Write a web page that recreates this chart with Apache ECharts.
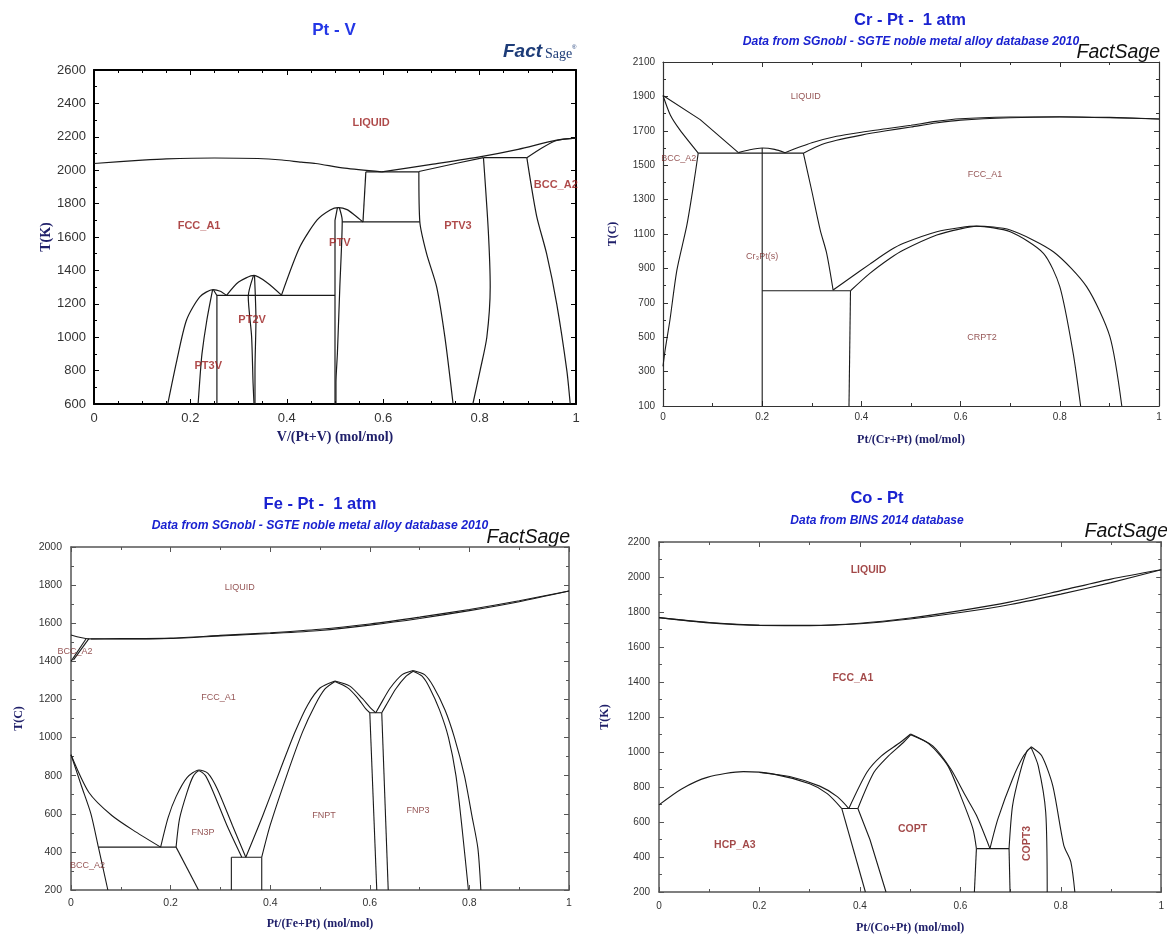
<!DOCTYPE html>
<html>
<head>
<meta charset="utf-8">
<script src="https://cdn.jsdelivr.net/npm/echarts@6/dist/echarts.min.js"></script>
<style>
  html, body { margin: 0; padding: 0; background: #fff; }
  #chart { width: 1167px; height: 937px; }
</style>
</head>
<body>
<div id="chart"></div>
<script>
// ---------- shared composition ticks ----------
const compTicks = [0, 0.2, 0.4, 0.6, 0.8, 1];

// ---------- Pt - V (T in K) ----------
const ptvTempTicks = [600, 800, 1000, 1200, 1400, 1600, 1800, 2000, 2200, 2400, 2600];
const ptvCurves = [
  [[0,2040],[0.1,2060],[0.15,2068],[0.25,2073],[0.34,2070],[0.39,2061],[0.43,2048],[0.46,2040],[0.52,2012],[0.597,1990]],
  [[0.597,1990],[0.70,2035],[0.80,2080],[0.88,2125],[0.96,2180],[1.0,2192]],
  [[0.674,1992],[0.75,2040],[0.808,2075]],
  [[0.898,2075],[0.93,2135],[0.96,2178],[1,2192]],
  [[0.808,2075],[0.898,2075]],
  [[0.564,1990],[0.674,1990]],
  [[0.564,1990],[0.558,1690]],
  [[0.674,1990],[0.676,1690],[0.690,1500],[0.711,1300],[0.728,1000],[0.745,600]],
  [[0.515,1690],[0.676,1690]],
  [[0.808,2075],[0.818,1640],[0.822,1300],[0.815,1000],[0.801,800],[0.786,600]],
  [[0.898,2075],[0.918,1730],[0.939,1500],[0.960,1200],[0.981,800],[0.988,600]],
  [[0.389,1252],[0.427,1540],[0.463,1702],[0.490,1762],[0.507,1776],[0.525,1764],[0.541,1730],[0.558,1690]],
  [[0.505,1775],[0.500,1700],[0.500,600]],
  [[0.509,1775],[0.515,1700],[0.510,1300],[0.505,905],[0.502,726],[0.502,600]],
  [[0.255,1250],[0.500,1250]],
  [[0.153,600],[0.172,863],[0.192,1103],[0.220,1243],[0.247,1285],[0.262,1275],[0.275,1250]],
  [[0.246,1283],[0.234,1100],[0.224,900],[0.220,763],[0.216,600]],
  [[0.248,1283],[0.255,1250],[0.255,600]],
  [[0.275,1250],[0.30,1330],[0.332,1370],[0.36,1325],[0.389,1252]],
  [[0.331,1370],[0.320,1243],[0.327,1003],[0.330,726],[0.332,600]],
  [[0.333,1370],[0.336,1103],[0.334,803],[0.334,600]]
];
const ptvLabels = [
  ['LIQUID', 0.575, 2283], ['FCC_A1', 0.218, 1666], ['PTV', 0.51, 1564], ['PTV3', 0.755, 1666],
  ['BCC_A2', 0.958, 1911], ['PT2V', 0.328, 1103], ['PT3V', 0.237, 827]
];

// ---------- Cr - Pt (T in C) ----------
const crptTempTicks = [100, 300, 500, 700, 900, 1100, 1300, 1500, 1700, 1900, 2100];
const crptCurves = [
  [[0,1905],[0.075,1765],[0.152,1573]],
  [[0,1905],[0.015,1790],[0.034,1705],[0.071,1570]],
  [[0.071,1570],[0.283,1570]],
  [[0.152,1573],[0.175,1590],[0.2,1600],[0.225,1592],[0.246,1573]],
  [[0.2,1600],[0.2,100]],
  [[0.246,1573],[0.30,1630],[0.35,1668],[0.40,1692],[0.45,1712],[0.50,1732],[0.55,1755],[0.60,1770],[0.70,1780],[0.80,1782],[0.90,1778],[1.0,1769]],
  [[0.283,1570],[0.32,1620],[0.35,1645],[0.40,1675],[0.45,1700],[0.50,1722],[0.55,1745],[0.60,1762],[0.70,1776],[0.80,1780],[0.90,1776],[1.0,1769]],
  [[0.283,1570],[0.30,1350],[0.317,1123],[0.33,988],[0.343,774]],
  [[0.2,770],[0.378,770]],
  [[0.378,770],[0.375,100]],
  [[0.343,774],[0.38,850],[0.417,925],[0.458,1005],[0.485,1046],[0.552,1113],[0.60,1138],[0.632,1146],[0.70,1123],[0.787,997],[0.854,794],[0.901,503],[0.925,100]],
  [[0.378,770],[0.417,871],[0.458,959],[0.485,1007],[0.552,1094],[0.60,1130],[0.632,1145],[0.70,1113],[0.767,988],[0.80,794],[0.827,406],[0.842,100]],
  [[0.071,1570],[0.061,1375],[0.048,1150],[0.028,890],[0.014,600],[0.004,420],[0,330]]
];
const crptLabels = [
  ['LIQUID', 0.288, 1897], ['BCC_A2', 0.032, 1536], ['FCC_A1', 0.649, 1443],
  ['Cr\u2083Pt(s)', 0.2, 972], ['CRPT2', 0.643, 501]
];

// ---------- Fe - Pt (T in C) ----------
const feptTempTicks = [200, 400, 600, 800, 1000, 1200, 1400, 1600, 1800, 2000];
const feptCurves = [
  [[0,1538],[0.035,1518],[0.1,1519],[0.2,1522],[0.3,1536],[0.4,1550],[0.5,1568],[0.6,1596],[0.7,1632],[0.8,1672],[0.9,1718],[1,1769]],
  [[0.04,1517],[0.1,1517],[0.2,1520],[0.3,1533],[0.4,1546],[0.5,1562],[0.6,1590],[0.7,1625],[0.8,1666],[0.9,1713],[1,1769]],
  [[0,1400],[0.03,1517]],
  [[0.005,1408],[0.036,1519]],
  [[0,910],[0.036,712],[0.082,591],[0.13,505],[0.18,425]],
  [[0,910],[0.021,746],[0.04,600],[0.055,425],[0.074,200]],
  [[0.055,425],[0.211,425]],
  [[0.18,425],[0.195,580],[0.211,690],[0.233,790],[0.257,830],[0.275,812],[0.294,729],[0.324,540],[0.351,372]],
  [[0.211,425],[0.218,574],[0.233,712],[0.245,795],[0.257,826],[0.27,800],[0.286,712],[0.313,540],[0.343,372]],
  [[0.211,425],[0.256,200]],
  [[0.322,372],[0.383,372]],
  [[0.322,372],[0.322,200]],
  [[0.383,372],[0.383,200]],
  [[0.351,372],[0.385,590],[0.42,830],[0.45,1030],[0.475,1170],[0.50,1260],[0.53,1297]],
  [[0.383,372],[0.40,540],[0.435,815],[0.465,1030],[0.49,1170],[0.51,1255],[0.53,1294]],
  [[0.53,1297],[0.56,1270],[0.585,1205],[0.600,1160],[0.612,1130]],
  [[0.53,1294],[0.555,1262],[0.575,1210],[0.592,1150],[0.600,1130]],
  [[0.612,1130],[0.625,1190],[0.641,1260],[0.665,1330],[0.687,1352]],
  [[0.624,1130],[0.635,1180],[0.652,1255],[0.672,1320],[0.687,1348]],
  [[0.687,1352],[0.71,1330],[0.728,1267],[0.751,1145],[0.77,1000],[0.79,800],[0.805,590],[0.817,420],[0.823,200]],
  [[0.687,1348],[0.705,1322],[0.720,1262],[0.740,1145],[0.758,1000],[0.773,800],[0.786,506],[0.798,200]],
  [[0.600,1130],[0.624,1130]],
  [[0.600,1130],[0.614,200]],
  [[0.624,1130],[0.637,200]]
];
const feptLabels = [
  ['LIQUID', 0.339, 1786], ['BCC_A2', 0.008, 1454], ['FCC_A1', 0.296, 1211], ['FN3P', 0.265, 503],
  ['FNPT', 0.508, 591], ['FNP3', 0.697, 617], ['BCC_A2', 0.033, 330]
];

// ---------- Co - Pt (T in K) ----------
const coptTempTicks = [200, 400, 600, 800, 1000, 1200, 1400, 1600, 1800, 2000, 2200];
const coptCurves = [
  [[0,1768],[0.1,1740],[0.2,1725],[0.3,1724],[0.4,1736],[0.5,1766],[0.6,1808],[0.7,1858],[0.8,1922],[0.9,1988],[1,2041]],
  [[0,1768],[0.1,1738],[0.2,1723],[0.3,1722],[0.4,1733],[0.5,1760],[0.6,1797],[0.7,1843],[0.8,1902],[0.9,1968],[1,2041]],
  [[0,698],[0.045,789],[0.096,855],[0.168,888],[0.226,875],[0.30,818],[0.335,762],[0.364,677]],
  [[0.2,883],[0.26,860],[0.32,805],[0.355,745],[0.378,677]],
  [[0.364,677],[0.396,677]],
  [[0.364,677],[0.411,200]],
  [[0.396,677],[0.42,500],[0.452,200]],
  [[0.378,677],[0.414,884],[0.443,978],[0.48,1054],[0.501,1103]],
  [[0.396,677],[0.428,884],[0.457,978],[0.485,1050],[0.501,1098]],
  [[0.501,1103],[0.545,1035],[0.581,903],[0.61,751],[0.632,638],[0.659,448]],
  [[0.501,1098],[0.538,1045],[0.575,922],[0.603,732],[0.625,562],[0.632,448]],
  [[0.632,448],[0.697,448]],
  [[0.632,448],[0.628,200]],
  [[0.697,448],[0.699,200]],
  [[0.659,448],[0.675,619],[0.704,846],[0.726,978],[0.741,1030]],
  [[0.697,448],[0.704,694],[0.719,884],[0.733,1007],[0.741,1025]],
  [[0.741,1030],[0.762,978],[0.784,808],[0.806,467],[0.82,372],[0.828,200]],
  [[0.741,1025],[0.755,922],[0.77,656],[0.773,200]]
];
const coptLabels = [
  ['LIQUID', 0.417, 2039], ['FCC_A1', 0.386, 1423], ['HCP_A3', 0.151, 467],
  ['COPT', 0.505, 562], ['COPT3', 0.733, 477, 90]
];

// ---------- panel layout and styling ----------
const panels = [
  {
    grid: { left: 94, top: 70, width: 482, height: 334 },
    curves: ptvCurves, labels: ptvLabels, yTicks: ptvTempTicks,
    xName: 'V/(Pt+V) (mol/mol)', yName: 'T(K)',
    frame: '#000', frameW: 2, tickFs: 13, tickFont: 'Liberation Sans',
    xMinor: 4, yMinor: 2, rightMinor: 0,
    xLabelMargin: 8, yLabelMargin: 8, xNameGap: 26, yNameGap: 37, nameFs: 14,
    lineColor: '#1a1a1a', lineW: 1.2,
    phase: { color: '#9a1c1c', fontSize: 11, fontWeight: 'bold' }
  },
  {
    grid: { left: 663, top: 62, width: 496, height: 344 },
    curves: crptCurves, labels: crptLabels, yTicks: crptTempTicks,
    xName: 'Pt/(Cr+Pt) (mol/mol)', yName: 'T(C)',
    frame: '#333', frameW: 1.2, tickFs: 10, tickFont: 'Liberation Sans',
    xMinor: 2, yMinor: 2, rightMinor: 2,
    xLabelMargin: 6, yLabelMargin: 8, xNameGap: 28, yNameGap: 44, nameFs: 12,
    lineColor: '#1a1a1a', lineW: 1.1,
    phase: { color: '#7a2a2a', fontSize: 9, fontWeight: 'normal' }
  },
  {
    grid: { left: 71, top: 547, width: 498, height: 343 },
    curves: feptCurves, labels: feptLabels, yTicks: feptTempTicks,
    xName: 'Pt/(Fe+Pt) (mol/mol)', yName: 'T(C)',
    frame: '#555', frameW: 1.5, tickFs: 10.5, tickFont: 'Liberation Sans',
    xMinor: 2, yMinor: 2, rightMinor: 2,
    xLabelMargin: 8, yLabelMargin: 9, xNameGap: 28, yNameGap: 46, nameFs: 12,
    lineColor: '#1a1a1a', lineW: 1.1,
    phase: { color: '#7a2a2a', fontSize: 9, fontWeight: 'normal' }
  },
  {
    grid: { left: 659, top: 542, width: 505, height: 350 },
    curves: coptCurves, labels: coptLabels, yTicks: coptTempTicks,
    xName: 'Pt/(Co+Pt) (mol/mol)', yName: 'T(K)',
    frame: '#555', frameW: 1.5, tickFs: 10, tickFont: 'Liberation Sans Narrow, Liberation Sans',
    xMinor: 2, yMinor: 2, rightMinor: 2,
    xLabelMargin: 9, yLabelMargin: 9, xNameGap: 30, yNameGap: 48, nameFs: 12,
    lineColor: '#1a1a1a', lineW: 1.1,
    phase: { color: '#8b1a1a', fontSize: 10.5, fontWeight: 'bold' }
  }
];

const grids = [], xAxes = [], yAxes = [], series = [];
const plain = v => String(v);

panels.forEach((p, i) => {
  grids.push(Object.assign({ containLabel: false }, p.grid));
  const xMin = compTicks[0], xMax = compTicks[compTicks.length - 1], xStep = compTicks[1] - compTicks[0];
  const yMin = p.yTicks[0], yMax = p.yTicks[p.yTicks.length - 1], yStep = p.yTicks[1] - p.yTicks[0];
  const line = { show: true, onZero: false, lineStyle: { color: p.frame, width: p.frameW } };
  const tick = { show: true, inside: true, length: 5, lineStyle: { color: p.frame, width: 1 } };
  const minor = n => ({ show: n > 0, splitNumber: Math.max(n, 1), length: 3, lineStyle: { color: p.frame, width: 1 } });
  const tickText = {
    color: '#333', fontSize: p.tickFs, fontFamily: p.tickFont,
    showMinLabel: true, showMaxLabel: true, formatter: plain
  };
  const nameText = { color: '#20206a', fontSize: p.nameFs, fontWeight: 'bold', fontFamily: 'Liberation Serif' };

  xAxes.push({
    gridIndex: i, type: 'value', position: 'bottom', min: xMin, max: xMax, interval: xStep,
    axisLine: line, axisTick: tick, minorTick: minor(p.xMinor), splitLine: { show: false },
    axisLabel: Object.assign({ margin: p.xLabelMargin }, tickText),
    name: p.xName, nameLocation: 'middle', nameGap: p.xNameGap, nameTextStyle: nameText
  });
  xAxes.push({
    gridIndex: i, type: 'value', position: 'top', min: xMin, max: xMax, interval: xStep,
    axisLine: line, axisTick: tick, minorTick: minor(p.xMinor), splitLine: { show: false },
    axisLabel: { show: false }
  });
  yAxes.push({
    gridIndex: i, type: 'value', position: 'left', min: yMin, max: yMax, interval: yStep,
    axisLine: line, axisTick: tick, minorTick: minor(p.yMinor), splitLine: { show: false },
    axisLabel: Object.assign({ margin: p.yLabelMargin }, tickText),
    name: p.yName, nameLocation: 'middle', nameGap: p.yNameGap, nameRotate: 90, nameTextStyle: nameText
  });
  yAxes.push({
    gridIndex: i, type: 'value', position: 'right', min: yMin, max: yMax, interval: yStep,
    axisLine: line, axisTick: tick, minorTick: minor(p.rightMinor), splitLine: { show: false },
    axisLabel: { show: false }
  });

  p.curves.forEach(c => {
    series.push({
      type: 'line', xAxisIndex: 2 * i, yAxisIndex: 2 * i, data: c,
      symbol: 'none', smooth: c.length > 3 ? 0.25 : false, silent: true,
      lineStyle: { color: p.lineColor, width: p.lineW }, z: 3
    });
  });

  series.push({
    type: 'scatter', xAxisIndex: 2 * i, yAxisIndex: 2 * i, symbolSize: 0, silent: true, z: 5,
    data: p.labels.map(l => ({
      name: l[0], value: [l[1], l[2]],
      label: l[3] ? { rotate: l[3] } : undefined
    })),
    label: {
      show: true, position: 'inside', formatter: '{b}',
      color: p.phase.color, fontSize: p.phase.fontSize, fontWeight: p.phase.fontWeight,
      fontFamily: 'Liberation Sans'
    }
  });
});

// titles, database notes and program marks
const blue = '#1a22d0';
function txt(x, y, text, font, fill, align) {
  return {
    type: 'text', x: x, y: y, silent: true,
    style: {
      text: text, font: font, fill: fill,
      align: align || 'center', verticalAlign: 'middle',
      textAlign: align || 'center', textVerticalAlign: 'middle'
    }
  };
}
const graphics = [
  txt(334, 30, 'Pt - V', 'bold 17px Liberation Sans', '#2437e6'),
  txt(503, 52, 'Fact', 'italic 900 19px Liberation Sans', '#1d3c78', 'left'),
  txt(545, 54, 'Sage', '14px Liberation Serif', '#1d3c78', 'left'),
  txt(572, 47, '\u00ae', '6px Liberation Sans', '#1d3c78', 'left'),

  txt(910, 20, 'Cr - Pt -  1 atm', 'bold 16.5px Liberation Sans', blue),
  txt(911, 42, 'Data from SGnobl - SGTE noble metal alloy database 2010', 'italic bold 12.2px Liberation Sans', blue),
  txt(1160, 53, 'FactSage', 'italic 19.5px Liberation Sans', '#111', 'right'),

  txt(320, 504, 'Fe - Pt -  1 atm', 'bold 16.5px Liberation Sans', blue),
  txt(320, 526, 'Data from SGnobl - SGTE noble metal alloy database 2010', 'italic bold 12.2px Liberation Sans', blue),
  txt(570, 538, 'FactSage', 'italic 19.5px Liberation Sans', '#111', 'right'),

  txt(877, 498, 'Co - Pt', 'bold 16.5px Liberation Sans', blue),
  txt(877, 521, 'Data from BINS 2014 database', 'italic bold 12px Liberation Sans', blue),
  txt(1168, 532, 'FactSage', 'italic 19.5px Liberation Sans', '#111', 'right')
];

const chart = echarts.init(document.getElementById('chart'), null, { renderer: 'canvas' });
chart.setOption({
  animation: false,
  backgroundColor: '#fff',
  grid: grids,
  xAxis: xAxes,
  yAxis: yAxes,
  series: series,
  graphic: graphics
});
</script>
</body>
</html>
